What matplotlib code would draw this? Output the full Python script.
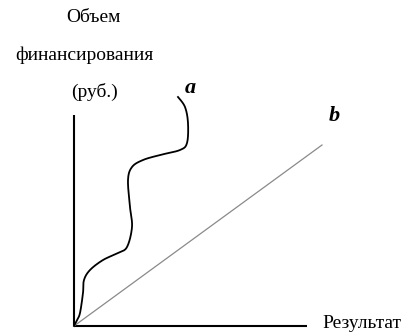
import numpy as np
import matplotlib
matplotlib.use("Agg")
import matplotlib.pyplot as plt

# Curve "a" (hand-drawn wavy curve), in data units from origin
a_x = [0, 3, 6, 9, 10, 16, 29, 44, 53, 58, 56, 54, 58, 69, 86, 106, 113, 114, 111, 104]
a_y = [0, 6, 13, 33, 46, 56, 66, 73, 79, 99, 119, 146, 159, 166, 171, 176, 183, 203, 219, 229]
# Line "b" (straight line from origin)
b_x = [0, 248]
b_y = [0, 181]
# Axis extents
x_axis_end = 233
y_axis_end = 211

def catmull_rom(xs, ys, n=20):
    pts = np.column_stack([xs, ys]).astype(float)
    pts = np.vstack([pts[0], pts, pts[-1]])
    out = []
    for i in range(1, len(pts) - 2):
        p0, p1, p2, p3 = pts[i - 1], pts[i], pts[i + 1], pts[i + 2]
        for t in np.linspace(0, 1, n, endpoint=False):
            t2, t3 = t * t, t * t * t
            out.append(0.5 * ((2 * p1) + (-p0 + p2) * t + (2 * p0 - 5 * p1 + 4 * p2 - p3) * t2
                              + (-p0 + 3 * p1 - 3 * p2 + p3) * t3))
    out.append(pts[-2])
    out = np.array(out)
    return out[:, 0], out[:, 1]

fig = plt.figure(figsize=(4.08, 3.33), dpi=100)
ax = fig.add_axes([0, 0, 1, 1])
ax.set_xlim(-74, 408 - 74)
ax.set_ylim(326 - 333, 326)
ax.axis("off")

serif = ["Liberation Serif", "DejaVu Serif"]

# axes
ax.plot([0, 0], [0, y_axis_end], color="black", lw=1.5, solid_capstyle="butt")
ax.plot([0, x_axis_end], [0, 0], color="black", lw=1.5, solid_capstyle="butt")

# line b
ax.plot(b_x, b_y, color="#8a8a8a", lw=0.9)

# curve a
cx, cy = catmull_rom(a_x, a_y)
ax.plot(cx, cy, color="black", lw=1.3, solid_joinstyle="round")

# labels
ax.text(93 - 74, 326 - 17, "Объем", family=serif, fontsize=14, ha="center", va="center")
ax.text(84 - 74, 326 - 55, "финансирования", family=serif, fontsize=14, ha="center", va="center")
ax.text(95 - 74, 326 - 92, "(руб.)", family=serif, fontsize=14, ha="center", va="center")
ax.text(362 - 74, 326 - 324, "Результат", family=serif, fontsize=14, ha="center", va="center")
ax.text(190 - 74, 326 - 88, "a", family=serif, fontsize=16, style="italic", weight="bold", ha="center", va="center")
ax.text(334 - 74, 326 - 116, "b", family=serif, fontsize=16, style="italic", weight="bold", ha="center", va="center")

fig.savefig("out.png", dpi=100)
